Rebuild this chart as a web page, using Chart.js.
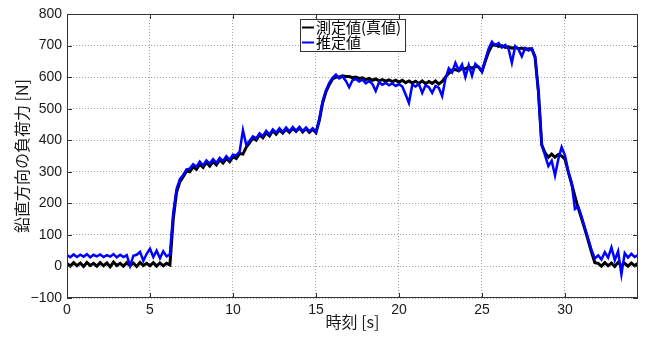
<!DOCTYPE html>
<html lang="ja">
<head>
<meta charset="utf-8">
<title>鉛直方向の負荷力</title>
<script src="https://cdn.jsdelivr.net/npm/chart.js@4.4.1/dist/chart.umd.min.js"></script>
<style>
  html, body { margin: 0; padding: 0; background: #fff; }
  #wrap { width: 649px; height: 338px; }
  canvas { display: block; }
</style>
</head>
<body>
<div id="wrap"><canvas id="loadChart" width="649" height="338"></canvas></div>
<script>
// Sample times [s]
const timeS = [
    0, 0.2, 0.4, 0.6, 0.8, 1, 1.2, 1.4, 1.6, 1.8,
    2, 2.2, 2.4, 2.6, 2.8, 3, 3.2, 3.4, 3.6, 3.8,
    4, 4.2, 4.4, 4.6, 4.8, 5, 5.2, 5.4, 5.6, 5.8,
    6, 6.2, 6.4, 6.6, 6.8, 7, 7.2, 7.4, 7.6, 7.8,
    8, 8.2, 8.4, 8.6, 8.8, 9, 9.2, 9.4, 9.6, 9.8,
    10, 10.2, 10.4, 10.6, 10.8, 11, 11.2, 11.4, 11.6, 11.8,
    12, 12.2, 12.4, 12.6, 12.8, 13, 13.2, 13.4, 13.6, 13.8,
    14, 14.2, 14.4, 14.6, 14.8, 15, 15.2, 15.4, 15.6, 15.8,
    16, 16.2, 16.4, 16.6, 16.8, 17, 17.2, 17.4, 17.6, 17.8,
    18, 18.2, 18.4, 18.6, 18.8, 19, 19.2, 19.4, 19.6, 19.8,
    20, 20.2, 20.4, 20.6, 20.8, 21, 21.2, 21.4, 21.6, 21.8,
    22, 22.2, 22.4, 22.6, 22.8, 23, 23.2, 23.4, 23.6, 23.8,
    24, 24.2, 24.4, 24.6, 24.8, 25, 25.2, 25.4, 25.6, 25.8,
    26, 26.2, 26.4, 26.6, 26.8, 27, 27.2, 27.4, 27.6, 27.8,
    28, 28.2, 28.4, 28.6, 28.8, 29, 29.2, 29.4, 29.6, 29.8,
    30, 30.2, 30.4, 30.6, 30.8, 31, 31.2, 31.4, 31.6, 31.8,
    32, 32.2, 32.4, 32.6, 32.8, 33, 33.2, 33.4, 33.6, 33.8,
    34, 34.2, 34.4
];

// 測定値(真値) [N]
const measuredN = [
    10, 1, 12, 2, 11, 0, 13, 3, 10, 1,
    12, 2, 11, -1, 14, 3, 10, 1, 12, 2,
    11, 0, 13, 3, 10, 2, 12, 1, 11, 2,
    10, 5, 150, 235, 268, 284, 302, 300, 316, 308,
    324, 314, 330, 318, 332, 322, 338, 328, 342, 332,
    348, 342, 358, 356, 378, 392, 407, 400, 417, 408,
    424, 414, 430, 419, 433, 423, 435, 425, 438, 428,
    439, 426, 437, 425, 435, 424, 462, 518, 553, 576,
    594, 600, 600, 604, 602, 602, 598, 600, 596, 598,
    592, 596, 590, 594, 588, 592, 587, 591, 586, 590,
    584, 590, 582, 588, 581, 587, 580, 588, 579, 586,
    580, 588, 578, 586, 600, 612, 622, 624, 620, 628,
    626, 632, 628, 634, 632, 618, 650, 680, 700, 703,
    697, 700, 694, 696, 692, 694, 690, 692, 688, 690,
    690, 662, 555, 385, 360, 346, 356, 346, 355, 350,
    340, 300, 262, 222, 185, 152, 118, 82, 45, 12,
    10, 1, 12, 2, 11, 0, 13, 3, 10, 1,
    11, 2, 10
];

// 推定値 [N]
const estimatedN = [
    36, 29, 38, 30, 37, 31, 39, 29, 37, 32,
    38, 30, 36, 31, 39, 29, 37, 30, 36, 2,
    34, 37, 46, 18, 40, 56, 30, 50, 26, 48,
    32, 38, 170, 245, 277, 290, 308, 310, 324, 316,
    332, 320, 336, 326, 340, 328, 344, 334, 349, 338,
    354, 352, 364, 432, 385, 398, 412, 406, 422, 413,
    430, 418, 434, 424, 438, 426, 440, 428, 442, 430,
    442, 429, 440, 428, 438, 426, 468, 524, 558, 582,
    598, 608, 596, 602, 588, 568, 590, 594, 586, 592,
    580, 588, 578, 556, 584, 576, 582, 574, 580, 572,
    578, 570, 545, 518, 576, 570, 578, 550, 574, 568,
    550, 572, 566, 540, 595, 628, 615, 645, 622, 640,
    600, 638, 604, 642, 632, 618, 655, 690, 712, 700,
    708, 694, 702, 690, 645, 698, 688, 666, 692, 684,
    690, 667, 550, 385, 352, 318, 335, 288, 340, 378,
    352, 300, 266, 182, 190, 158, 122, 88, 52, 25,
    35, 22, 45, 28, 60, 20, 48, -25, 42, 28,
    40, 30, 36
];

const seriesNames = ['測定値(真値)', '推定値'];
const seriesColors = ['#000000', '#0000ff'];

const xTicks = [0, 5, 10, 15, 20, 25, 30];
const yTicks = [-100, 0, 100, 200, 300, 400, 500, 600, 700, 800];

const jpFont = '"Noto Sans CJK JP", "Noto Sans", sans-serif';
const numFont = '"Liberation Sans", Arial, sans-serif';

function toPoints(values) {
    return values.map((v, i) => ({ x: timeS[i], y: v }));
}

// MATLAB style box, inward ticks and legend
const boxPlugin = {
    id: 'boxPlugin',
    afterDraw(chart) {
        const { ctx, chartArea: a, scales: { x, y } } = chart;
        ctx.save();
        ctx.strokeStyle = '#333333';
        ctx.lineWidth = 1;
        ctx.strokeRect(a.left + 0.5, a.top + 0.5, a.right - a.left - 1, a.bottom - a.top - 1);

        ctx.beginPath();
        xTicks.forEach(v => {
            const px = Math.round(x.getPixelForValue(v)) + 0.5;
            ctx.moveTo(px, a.bottom); ctx.lineTo(px, a.bottom - 5);
            ctx.moveTo(px, a.top); ctx.lineTo(px, a.top + 5);
        });
        yTicks.forEach(v => {
            const py = Math.round(y.getPixelForValue(v)) + 0.5;
            ctx.moveTo(a.left, py); ctx.lineTo(a.left + 5, py);
            ctx.moveTo(a.right, py); ctx.lineTo(a.right - 5, py);
        });
        ctx.stroke();

        // legend
        const lx = 300, ly = 19, lw = 105, lh = 32;
        ctx.fillStyle = '#ffffff';
        ctx.fillRect(lx, ly, lw, lh);
        ctx.strokeStyle = '#333333';
        ctx.strokeRect(lx + 0.5, ly + 0.5, lw, lh);
        ctx.font = '15px ' + jpFont;
        ctx.textBaseline = 'middle';
        seriesNames.forEach((name, i) => {
            const cy = ly + 8.5 + i * 15;
            ctx.strokeStyle = seriesColors[i];
            ctx.lineWidth = 2;
            ctx.beginPath();
            ctx.moveTo(lx + 2, cy); ctx.lineTo(lx + 14, cy);
            ctx.stroke();
            ctx.fillStyle = '#000000';
            ctx.fillText(name, lx + 16, cy);
        });
        ctx.restore();
    }
};

const chart = new Chart(document.getElementById('loadChart'), {
    type: 'line',
    data: {
        datasets: [
            {
                label: seriesNames[0],
                data: toPoints(measuredN),
                borderColor: seriesColors[0],
                borderWidth: 3,
                pointRadius: 0,
                tension: 0,
                order: 1
            },
            {
                label: seriesNames[1],
                data: toPoints(estimatedN),
                borderColor: seriesColors[1],
                borderWidth: 2.5,
                pointRadius: 0,
                tension: 0,
                order: 0
            }
        ]
    },
    options: {
        responsive: false,
        animation: false,
        devicePixelRatio: 1,
        layout: { padding: { top: 14, right: 11, left: 0, bottom: 0 } },
        plugins: {
            legend: { display: false },
            tooltip: { enabled: false }
        },
        scales: {
            x: {
                type: 'linear',
                min: 0,
                max: 34.4,
                afterFit(scale) { scale.height = 40; },
                afterBuildTicks(scale) { scale.ticks = xTicks.map(v => ({ value: v })); },
                ticks: {
                    padding: 4,
                    maxRotation: 0,
                    color: '#1a1a1a',
                    font: { family: numFont, size: 14 }
                },
                grid: { color: '#a8a8a8', drawTicks: false, lineWidth: 1 },
                border: { display: false, dash: [1, 2] },
                title: {
                    display: true,
                    text: '時刻 [s]',
                    color: '#1a1a1a',
                    font: { family: jpFont, size: 16 },
                    padding: { top: 0, bottom: 6 }
                }
            },
            y: {
                min: -100,
                max: 800,
                afterFit(scale) { scale.width = 67; },
                afterBuildTicks(scale) { scale.ticks = yTicks.map(v => ({ value: v })); },
                ticks: {
                    padding: 5,
                    color: '#1a1a1a',
                    font: { family: numFont, size: 14 },
                    callback: v => String(v).replace('-', '\u2212')
                },
                grid: { color: '#a8a8a8', drawTicks: false, lineWidth: 1 },
                border: { display: false, dash: [1, 2] },
                title: {
                    display: true,
                    text: '鉛直方向の負荷力 [N]',
                    color: '#1a1a1a',
                    font: { family: jpFont, size: 16 },
                    padding: { top: 12, bottom: 0 }
                }
            }
        }
    },
    plugins: [boxPlugin]
});
</script>
</body>
</html>
